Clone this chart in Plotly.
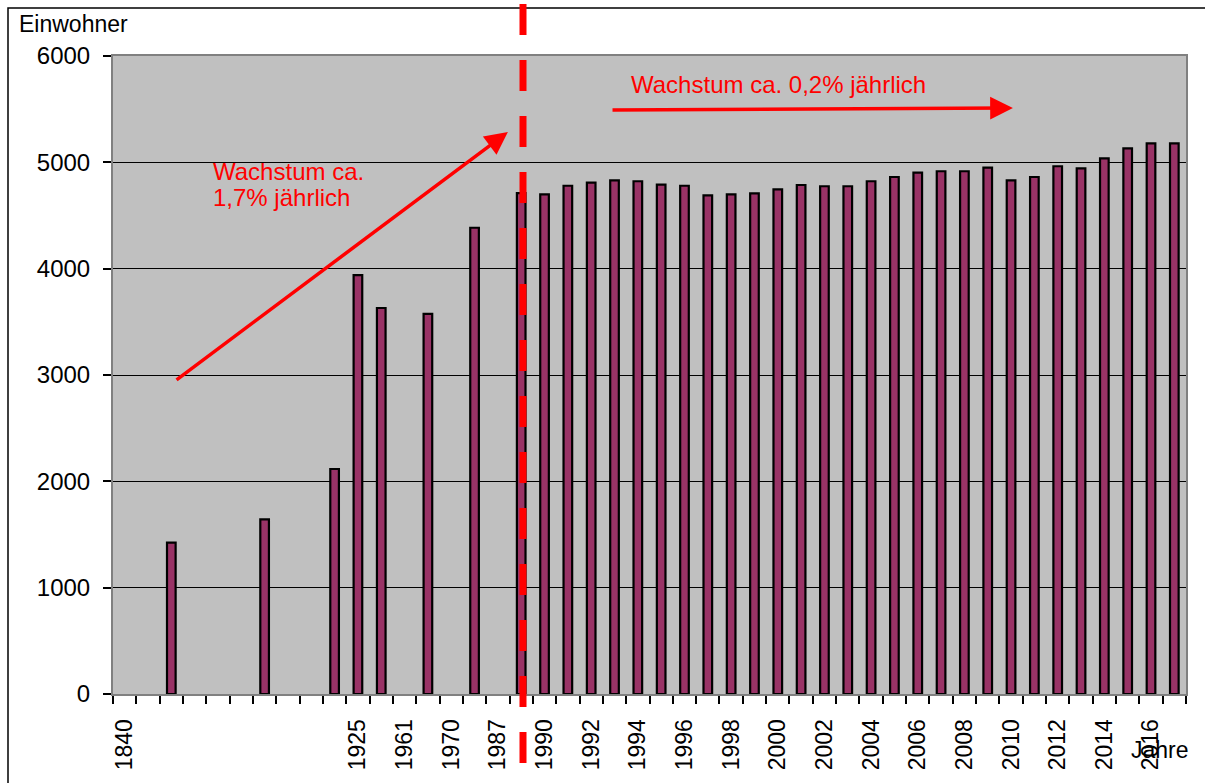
import plotly.graph_objects as go

# ---------------- data ----------------
categories = ["1840", "", "", "", "", "", "", "", "", "", "1925", "", "1961", "", "1970", "", "1987", "",
              "1990", "1991", "1992", "1993", "1994", "1995", "1996", "1997", "1998", "1999",
              "2000", "2001", "2002", "2003", "2004", "2005", "2006", "2007", "2008", "2009",
              "2010", "2011", "2012", "2013", "2014", "2015", "2016", "2017"]

einwohner = [None, None, 1423, None, None, None, 1643, None, None, 2116, 3940, 3630, None, 3574, None, 4385, None, 4711,
             4699, 4780, 4809, 4831, 4822, 4790, 4780, 4690, 4699, 4709,
             4746, 4787, 4775, 4775, 4822, 4862, 4903, 4916, 4916, 4950,
             4831, 4862, 4963, 4944, 5038, 5132, 5179, 5179]

y_ticks = [0, 1000, 2000, 3000, 4000, 5000, 6000]

# ---------------- layout helpers ----------------
W, H = 1205, 783
L, R, T, B = 113, 1186, 56, 694


def px(xp):
    return (xp - L) / (R - L)


def py(yp):
    return (B - yp) / (B - T)


FONT = "Liberation Sans, Arial, sans-serif"
RED = "#FF0000"

x_idx = list(range(len(categories)))

fig = go.Figure()
fig.add_trace(go.Bar(
    x=x_idx, y=einwohner, width=0.37,
    marker=dict(color="#993366", line=dict(color="black", width=2.2)),
    showlegend=False, hoverinfo="x+y",
))

tickvals = list(range(0, len(categories), 2))
fig.update_xaxes(
    range=[-0.5, len(categories) - 0.5],
    tickmode="array", tickvals=tickvals, ticktext=[categories[i] for i in tickvals],
    tickangle=-90, ticks="outside", ticklen=14, tickcolor="rgba(0,0,0,0)",
    tickfont=dict(family=FONT, size=23, color="black"),
    minor=dict(tickmode="array", tickvals=[i - 0.5 for i in range(len(categories) + 1)],
               ticks="outside", ticklen=8, tickwidth=1.5, tickcolor="black", showgrid=False),
    showgrid=False, showline=True, linecolor="#808080", linewidth=2, mirror=True,
    zeroline=False,
)
fig.update_yaxes(
    range=[0, 6000], tickmode="array", tickvals=y_ticks,
    ticks="outside", ticklen=8, tickcolor="black", tickwidth=1.5,
    tickfont=dict(family=FONT, size=24, color="black"),
    ticklabelstandoff=8,
    showgrid=True, gridcolor="black", gridwidth=1,
    showline=True, linecolor="#808080", linewidth=2, mirror=True,
    zeroline=False,
)

shapes = [
    # outer frame (top/left visible)
    dict(type="rect", xref="paper", yref="paper",
         x0=px(8), x1=px(1215), y0=py(795), y1=py(8),
         line=dict(color="black", width=1.5), fillcolor="rgba(0,0,0,0)", layer="above"),
    # red dashed divider
    dict(type="line", xref="paper", yref="paper",
         x0=px(523), x1=px(523), y0=py(4), y1=py(790),
         line=dict(color=RED, width=7, dash="31px,25px"), layer="above"),
]

annotations = [
    dict(text="Einwohner", xref="paper", yref="paper", x=px(17), y=py(24),
         xanchor="left", yanchor="middle", showarrow=False,
         font=dict(family=FONT, size=23, color="black")),
    dict(text="Jahre", xref="paper", yref="paper", x=px(1129), y=py(750),
         xanchor="left", yanchor="middle", showarrow=False,
         font=dict(family=FONT, size=23, color="black")),
    # arrows
    dict(x=16.43, y=5285, ax=2.16, ay=2944, xref="x", yref="y", axref="x", ayref="y",
         showarrow=True, arrowhead=2, arrowsize=1.3, arrowwidth=3.5, arrowcolor=RED, text=""),
    dict(x=38.08, y=5511, ax=20.85, ay=5492, xref="x", yref="y", axref="x", ayref="y",
         showarrow=True, arrowhead=2, arrowsize=1.3, arrowwidth=3.5, arrowcolor=RED, text=""),
    # texts
    dict(text="Wachstum ca.", xref="paper", yref="paper", x=px(211), y=py(171),
         xanchor="left", yanchor="middle", showarrow=False,
         font=dict(family=FONT, size=24, color=RED)),
    dict(text="1,7% jährlich", xref="paper", yref="paper", x=px(211), y=py(197),
         xanchor="left", yanchor="middle", showarrow=False,
         font=dict(family=FONT, size=24, color=RED)),
    dict(text="Wachstum ca. 0,2% jährlich", xref="paper", yref="paper", x=px(629), y=py(84),
         xanchor="left", yanchor="middle", showarrow=False,
         font=dict(family=FONT, size=24, color=RED)),
]

fig.update_layout(
    width=W, height=H,
    margin=dict(l=L, r=W - R, t=T, b=H - B),
    paper_bgcolor="white", plot_bgcolor="#C0C0C0",
    shapes=shapes, annotations=annotations,
    bargap=0.6, showlegend=False,
)

fig.write_html("out.html", config={"displayModeBar": False},
               post_script="document.body.style.margin='0';document.body.style.overflow='hidden';")
